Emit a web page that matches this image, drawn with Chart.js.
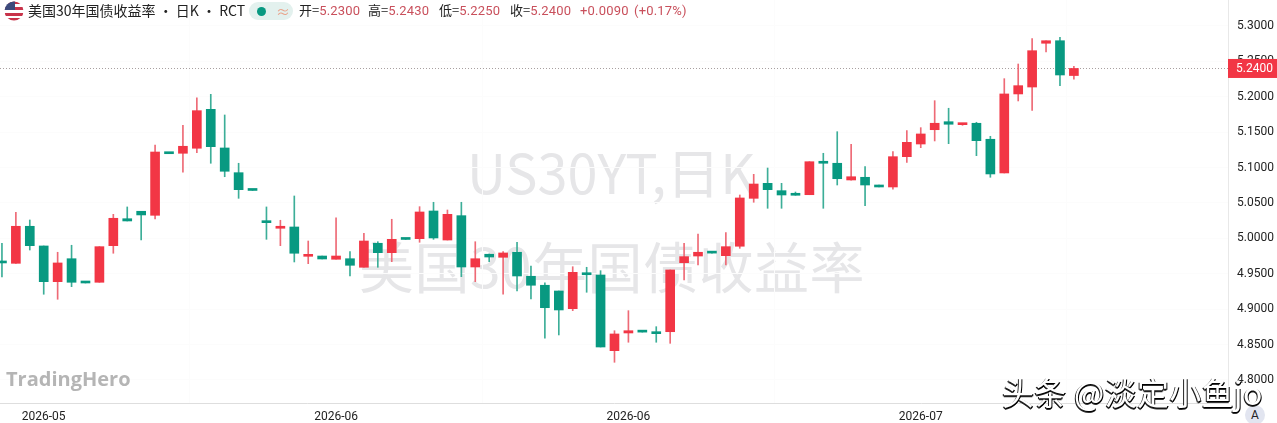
<!DOCTYPE html>
<html lang="zh-CN">
<head>
<meta charset="utf-8">
<title>美国30年国债收益率</title>
<script src="https://cdn.jsdelivr.net/npm/chart.js@4"></script>
<style>
  html, body { margin: 0; padding: 0; background: #fff; }
  body { width: 1277px; height: 423px; overflow: hidden; position: relative; font-family: "Noto Sans CJK SC", "Noto Sans", sans-serif; }
  #chart { position: absolute; left: 0; top: 0; z-index: 1; }
  .mark { position: absolute; color: #e6e6e8; white-space: nowrap; transform: translateX(-50%); z-index: 0; }
  #mark1 { left: 611px; top: 133px; font-size: 54px; line-height: 76px; }
  #mark2 { left: 612px; top: 225px; font-size: 55px; line-height: 78px; letter-spacing: 0.5px; }
  #header { position: absolute; left: 0; top: 0; height: 22px; z-index: 2; font-size: 13px; line-height: 20px; color: #222; white-space: nowrap; }
  #header span { position: absolute; top: 0; }
  #header b { font-weight: 400; color: #c9505c; font-family: Roboto, sans-serif; letter-spacing: .2px; }
  #header .title { font-size: 14px; letter-spacing: 0; }
  #flag { position: absolute; left: 4px; top: 1px; }
  #pill { position: absolute; left: 249px; top: 2px; width: 44px; height: 18px; border-radius: 9px; background: #e3f1ee; }
  #pill i { position: absolute; left: 8px; top: 5px; width: 9px; height: 9px; border-radius: 50%; background: #089981; }
  #pill u { position: absolute; left: 27px; top: -1px; text-decoration: none; color: #e8a48c; font-size: 14px; }
  #logo { position: absolute; left: 6px; top: 364px; z-index: 2; font: 700 20px/30px "Open Sans", sans-serif; letter-spacing: 0; color: #b5b5b5; }
  #toutiao { position: absolute; left: 1002px; top: 368px; z-index: 3; font-size: 32px; line-height: 46px; letter-spacing: .3px; color: #fff; white-space: nowrap; text-shadow: 1px 1px 0 #000, -1px 1px 0 #222, 0 2px 0 #333; }
  #auto { position: absolute; left: 1245px; top: 405px; z-index: 2; width: 20px; height: 20px; border-radius: 50%; background: #e2e5f0; color: #222; font: 12px/20px Roboto, sans-serif; text-align: center; }
</style>
</head>
<body>
<div class="mark" id="mark1">US30YT,日K</div>
<div class="mark" id="mark2">美国30年国债收益率</div>
<canvas id="chart" width="1277" height="423"></canvas>
<div id="header">
  <svg id="flag" width="20" height="20" viewBox="0 0 20 20">
    <clipPath id="round"><circle cx="10" cy="10" r="9.5"/></clipPath>
    <g clip-path="url(#round)">
      <rect width="20" height="20" fill="#fff"/>
      <rect y="0" width="20" height="3" fill="#c8334a"/>
      <rect y="6" width="20" height="3" fill="#c8334a"/>
      <rect y="12" width="20" height="3" fill="#c8334a"/>
      <rect y="17" width="20" height="3" fill="#c8334a"/>
      <rect width="11" height="9" fill="#3c4a7c"/>
    </g>
  </svg>
  <span class="title" style="left:28px">美国30年国债收益率 • 日K • RCT</span>
  <div id="pill"><i></i><u>≈</u></div>
  <span style="left:299px">开=<b>5.2300</b></span>
  <span style="left:368px">高=<b>5.2430</b></span>
  <span style="left:439px">低=<b>5.2250</b></span>
  <span style="left:510px">收=<b>5.2400</b></span>
  <span style="left:580px"><b>+0.0090</b></span>
  <span style="left:634px"><b>(+0.17%)</b></span>
</div>
<div id="logo">TradingHero</div>
<div id="toutiao">头条 @淡定小鱼jo</div>
<div id="auto">A</div>
<script>
const opens = [
  4.9681, 4.9648, 5.0171, 4.9893, 4.9389, 4.9713, 4.9384, 4.9380, 4.9897, 5.0278,
  5.0383, 5.0326, 5.1211, 5.1202, 5.1273, 5.1823, 5.1277, 5.0928, 5.0688, 5.0232,
  5.0143, 5.0161, 4.9747, 4.9751, 4.9705, 4.9713, 4.9592, 4.9931, 4.9798, 4.9996,
  4.9996, 5.0387, 4.9977, 5.0321, 4.9596, 4.9776, 4.9733, 4.9804, 4.9465, 4.9338,
  4.9257, 4.9007, 4.9502, 4.9483, 4.8414, 4.8664, 4.8688, 4.8668, 4.8682, 4.9657,
  4.9751, 4.9804, 4.9756, 4.9889, 5.0566, 5.0778, 5.0674, 5.0623, 5.0617, 5.1089,
  5.1061, 5.0825, 5.0863, 5.0754, 5.0726, 5.1154, 5.1333, 5.1535, 5.1648, 5.1606,
  5.1626, 5.1400, 5.0924, 5.2040, 5.2138, 5.2756, 5.2792, 5.2300
];
const highs = [
  4.9931, 5.0369, 5.0260, 4.9893, 4.9804, 4.9903, 4.9384, 4.9883, 5.0340, 5.0444,
  5.0383, 5.1319, 5.1211, 5.1597, 5.1987, 5.2035, 5.1743, 5.1061, 5.0688, 5.0444,
  5.0256, 5.0599, 4.9963, 4.9751, 5.0292, 4.9812, 5.0072, 4.9953, 5.0270, 4.9996,
  5.0448, 5.0510, 5.0401, 5.0510, 4.9953, 4.9780, 4.9812, 4.9945, 4.9610, 4.9374,
  4.9257, 4.9600, 4.9592, 4.9544, 4.8696, 4.8979, 4.8688, 4.8753, 4.9554, 4.9931,
  5.0062, 4.9804, 5.0081, 5.0613, 5.0905, 5.0994, 5.0778, 5.0655, 5.1083, 5.1202,
  5.1507, 5.1329, 5.1013, 5.0754, 5.1225, 5.1524, 5.1564, 5.1945, 5.1838, 5.1626,
  5.1640, 5.1442, 5.2256, 5.2463, 5.2821, 5.2792, 5.2840, 5.2430
];
const lows = [
  4.9455, 4.9648, 4.9836, 4.9211, 4.9140, 4.9318, 4.9370, 4.9380, 4.9790, 5.0246,
  4.9977, 5.0274, 5.1196, 5.0934, 5.1211, 5.1061, 5.0871, 5.0566, 5.0677, 4.9987,
  4.9897, 4.9667, 4.9643, 4.9709, 4.9705, 4.9469, 4.9592, 4.9592, 4.9671, 4.9985,
  4.9945, 4.9987, 4.9977, 4.9459, 4.9389, 4.9671, 4.9211, 4.9257, 4.9144, 4.8589,
  4.8636, 4.8979, 4.9239, 4.8466, 4.8250, 4.8533, 4.8676, 4.8533, 4.8518, 4.9412,
  4.9624, 4.9792, 4.9624, 4.9860, 5.0510, 5.0425, 5.0425, 5.0609, 5.0617, 5.0425,
  5.0754, 5.0821, 5.0462, 5.0726, 5.0694, 5.1072, 5.1281, 5.1376, 5.1338, 5.1597,
  5.1168, 5.0863, 5.0924, 5.1941, 5.1809, 5.2633, 5.2157, 5.2250
];
const closes = [
  4.9653, 5.0171, 4.9897, 4.9389, 4.9653, 4.9380, 4.9370, 4.9883, 5.0284, 5.0246,
  5.0331, 5.1220, 5.1196, 5.1301, 5.1804, 5.1295, 5.0948, 5.0688, 5.0677, 5.0222,
  5.0151, 4.9790, 4.9756, 4.9709, 4.9751, 4.9620, 4.9963, 4.9798, 4.9987, 4.9985,
  5.0373, 5.0006, 5.0340, 4.9596, 4.9713, 4.9737, 4.9794, 4.9469, 4.9338, 4.9021,
  4.8989, 4.9521, 4.9487, 4.8466, 4.8650, 4.8696, 4.8676, 4.8654, 4.9554, 4.9742,
  4.9804, 4.9792, 4.9883, 5.0571, 5.0768, 5.0688, 5.0613, 5.0609, 5.1083, 5.1061,
  5.0843, 5.0871, 5.0754, 5.0726, 5.1154, 5.1357, 5.1475, 5.1626, 5.1612, 5.1626,
  5.1380, 5.0910, 5.2040, 5.2157, 5.2651, 5.2792, 5.2308, 5.2400
];
const dateTickIndex = [3, 24, 45, 66];
const dateTickLabels = ['2026-05', '2026-06', '2026-06', '2026-07'];
const priceTicks = [4.80, 4.85, 4.90, 4.95, 5.00, 5.05, 5.10, 5.15, 5.20, 5.25, 5.30];
const lastPrice = 5.2400;

const UP = '#f23645', DOWN = '#089981';
const colors = opens.map((o, i) => closes[i] >= o ? UP : DOWN);
const wickColors = opens.map((o, i) => closes[i] >= o ? '#ee6a76' : '#3cae98');

// dotted last price line and the red tag on the price axis
const lastPricePlugin = {
  id: 'lastPrice',
  beforeDatasetsDraw(chart) {
    const y = chart.scales.y.getPixelForValue(lastPrice), c = chart.ctx;
    c.save();
    c.strokeStyle = '#a8a0a0';
    c.lineWidth = 1;
    c.setLineDash([1, 2]);
    c.beginPath();
    c.moveTo(chart.chartArea.left, Math.round(y) + .5);
    c.lineTo(chart.chartArea.right, Math.round(y) + .5);
    c.stroke();
    c.restore();
  },
  afterDraw(chart) {
    const y = chart.scales.y.getPixelForValue(lastPrice), c = chart.ctx;
    c.save();
    c.fillStyle = UP;
    c.fillRect(1228, y - 9.5, 49, 19);
    c.fillStyle = '#fff';
    c.font = '12px Roboto';
    c.textBaseline = 'middle';
    c.fillText(lastPrice.toFixed(4), 1236, y + .5);
    c.restore();
  }
};

new Chart(document.getElementById('chart'), {
  type: 'bar',
  data: {
    datasets: [
      {
        label: 'wick',
        data: highs.map((h, i) => ({ x: i, y: [lows[i], h] })),
        backgroundColor: wickColors,
        barThickness: 1,
        order: 2
      },
      {
        label: 'body',
        data: opens.map((o, i) => ({ x: i, y: [o, closes[i]] })),
        backgroundColor: colors,
        barThickness: 9,
        minBarLength: 2,
        order: 1
      }
    ]
  },
  options: {
    responsive: false,
    animation: false,
    layout: { padding: 0 },
    datasets: { bar: { grouped: false } },
    plugins: { legend: { display: false }, tooltip: { enabled: false } },
    scales: {
      x: {
        type: 'linear',
        offset: false,
        min: -0.14,
        max: 88.07,
        afterBuildTicks: s => { s.ticks = dateTickIndex.map(v => ({ value: v })); },
        afterFit: s => { s.height = 20; s.paddingLeft = 0; s.paddingRight = 0; },
        grid: { color: '#fcfcfc', drawTicks: false },
        border: { color: '#dedede' },
        ticks: {
          autoSkip: false,
          maxRotation: 0,
          padding: 7,
          color: '#222',
          font: { family: 'Roboto', size: 12 },
          callback: v => dateTickLabels[dateTickIndex.indexOf(v)]
        }
      },
      y: {
        position: 'right',
        min: 4.7675,
        max: 5.3367,
        afterBuildTicks: s => { s.ticks = priceTicks.map(v => ({ value: v })); },
        afterFit: s => { s.width = 49; s.paddingTop = 0; s.paddingBottom = 0; },
        grid: { color: '#fcfcfc', drawTicks: false },
        border: { color: '#e8e8e8' },
        ticks: {
          padding: 9,
          color: '#222',
          font: { family: 'Roboto', size: 12 },
          callback: v => v.toFixed(4)
        }
      }
    }
  },
  plugins: [lastPricePlugin]
});
</script>
</body>
</html>
